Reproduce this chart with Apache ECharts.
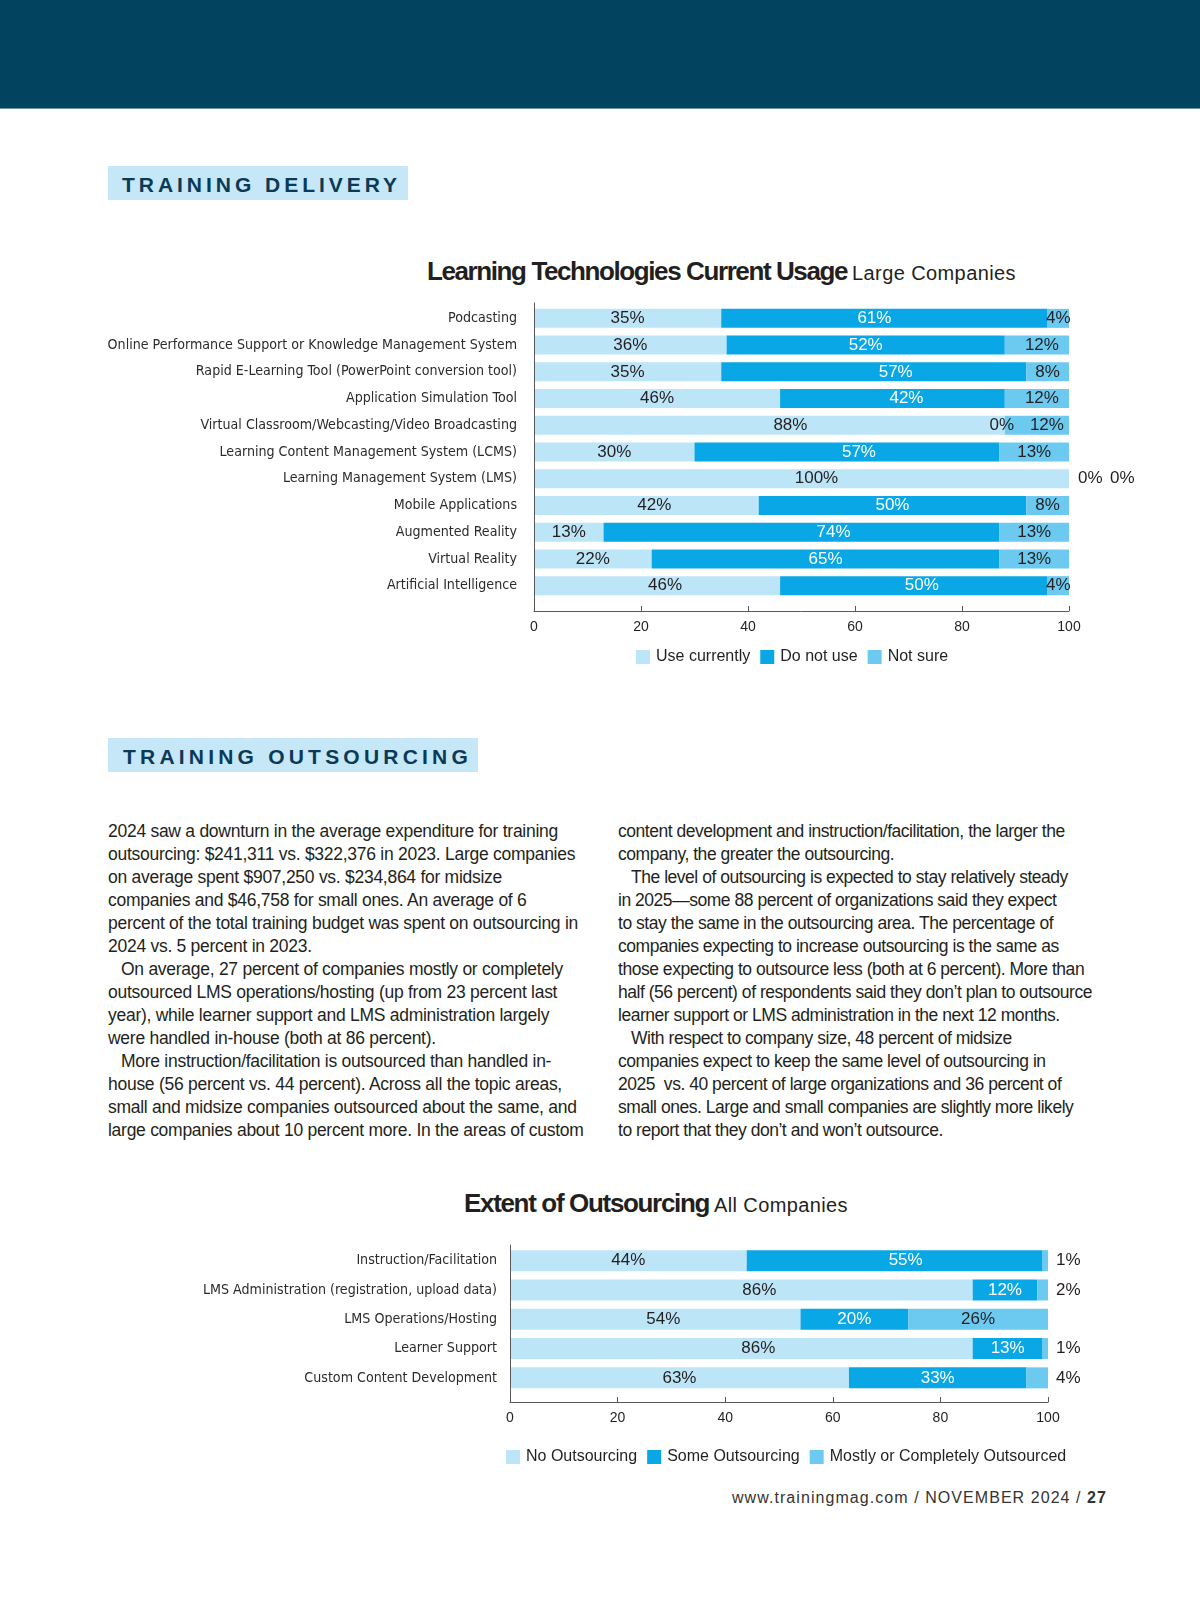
<!DOCTYPE html>
<html>
<head>
<meta charset="utf-8">
<script src="https://cdn.jsdelivr.net/npm/echarts@6/dist/echarts.min.js"></script>
<style>
html,body{margin:0;padding:0;background:#fff;}
#page{position:relative;width:1200px;height:1613px;overflow:hidden;background:#fff;}
#band{position:absolute;left:0;top:0;width:1200px;height:108px;background:#02445f;border-bottom:1px solid #6f93a6;}
.box{position:absolute;background:#c6e7f8;}
.sectxt{position:absolute;color:#0b3a57;font-family:'Liberation Sans',Arial,sans-serif;font-weight:bold;font-size:21px;line-height:22px;white-space:nowrap;}
.title{position:absolute;white-space:nowrap;color:#231f20;line-height:30px;}
.title .b{font-family:'Liberation Sans Narrow','Liberation Sans',sans-serif;font-weight:bold;font-size:26px;display:inline-block;}
.title .r{font-family:'Liberation Sans',sans-serif;font-size:20px;display:inline-block;margin-left:5px;}
.col{position:absolute;top:819.5px;font-family:'Liberation Sans',Arial,sans-serif;font-size:17.5px;line-height:23px;color:#231f20;white-space:nowrap;}
.col span{display:block;}
.col span.ind{text-indent:13px;}
#footer{position:absolute;left:732px;top:1488px;font-family:'Liberation Sans',Arial,sans-serif;font-size:16px;line-height:20px;color:#333;white-space:nowrap;}
#chart{position:absolute;left:0;top:0;width:1200px;height:1613px;}
</style>
</head>
<body>
<div id="page">
  <div id="band"></div>
  <div class="box" style="left:108px;top:166px;width:300px;height:34px;"></div>
  <div class="sectxt" id="sec1" style="left:122px;top:174px;">TRAINING DELIVERY</div>
  <div class="title" id="t1" style="left:427px;top:256px;"><span class="b">Learning Technologies Current Usage</span><span class="r">Large Companies</span></div>

  <div class="box" style="left:108px;top:738px;width:370px;height:34px;"></div>
  <div class="sectxt" id="sec2" style="left:123px;top:746px;">TRAINING OUTSOURCING</div>

  <div class="col" id="colL" style="left:108px;">
    <span>2024 saw a downturn in the average expenditure for training</span>
    <span>outsourcing: $241,311 vs. $322,376 in 2023. Large companies</span>
    <span>on average spent $907,250 vs. $234,864 for midsize</span>
    <span>companies and $46,758 for small ones. An average of 6</span>
    <span>percent of the total training budget was spent on outsourcing in</span>
    <span>2024 vs. 5 percent in 2023.</span>
    <span class="ind">On average, 27 percent of companies mostly or completely</span>
    <span>outsourced LMS operations/hosting (up from 23 percent last</span>
    <span>year), while learner support and LMS administration largely</span>
    <span>were handled in-house (both at 86 percent).</span>
    <span class="ind">More instruction/facilitation is outsourced than handled in-</span>
    <span>house (56 percent vs. 44 percent). Across all the topic areas,</span>
    <span>small and midsize companies outsourced about the same, and</span>
    <span>large companies about 10 percent more. In the areas of custom</span>
  </div>
  <div class="col" id="colR" style="left:618px;">
    <span>content development and instruction/facilitation, the larger the</span>
    <span>company, the greater the outsourcing.</span>
    <span class="ind">The level of outsourcing is expected to stay relatively steady</span>
    <span>in 2025—some 88 percent of organizations said they expect</span>
    <span>to stay the same in the outsourcing area. The percentage of</span>
    <span>companies expecting to increase outsourcing is the same as</span>
    <span>those expecting to outsource less (both at 6 percent). More than</span>
    <span>half (56 percent) of respondents said they don’t plan to outsource</span>
    <span>learner support or LMS administration in the next 12 months.</span>
    <span class="ind">With respect to company size, 48 percent of midsize</span>
    <span>companies expect to keep the same level of outsourcing in</span>
    <span>2025&nbsp; vs. 40 percent of large organizations and 36 percent of</span>
    <span>small ones. Large and small companies are slightly more likely</span>
    <span>to report that they don’t and won’t outsource.</span>
  </div>

  <div class="title" id="t2" style="left:464px;top:1188px;"><span class="b">Extent of Outsourcing</span><span class="r">All Companies</span></div>

  <div id="footer">www.trainingmag.com / NOVEMBER 2024 / <b>27</b></div>

  <div id="chart"></div>
</div>
<script>
// ---------- Data: Learning Technologies Current Usage (Large Companies) ----------
const techCategories = [
  'Podcasting',
  'Online Performance Support or Knowledge Management System',
  'Rapid E-Learning Tool (PowerPoint conversion tool)',
  'Application Simulation Tool',
  'Virtual Classroom/Webcasting/Video Broadcasting',
  'Learning Content Management System (LCMS)',
  'Learning Management System (LMS)',
  'Mobile Applications',
  'Augmented Reality',
  'Virtual Reality',
  'Artificial Intelligence'
];
const techSeriesNames = ['Use currently', 'Do not use', 'Not sure'];
const useCurrently = [35, 36, 35, 46, 88, 30, 100, 42, 13, 22, 46];
const doNotUse     = [61, 52, 57, 42, 0, 57, 0, 50, 74, 65, 50];
const notSure      = [4, 12, 8, 12, 12, 13, 0, 8, 13, 13, 4];

// ---------- Data: Extent of Outsourcing (All Companies) ----------
const outCategories = [
  'Instruction/Facilitation',
  'LMS Administration (registration, upload data)',
  'LMS Operations/Hosting',
  'Learner Support',
  'Custom Content Development'
];
const outSeriesNames = ['No Outsourcing', 'Some Outsourcing', 'Mostly or Completely Outsourced'];
const noOutsourcing    = [44, 86, 54, 86, 63];
const someOutsourcing  = [55, 12, 20, 13, 33];
const mostlyOutsourced = [1, 2, 26, 1, 4];

// ---------- Axis tick labels ----------
const axisTicks = [0, 20, 40, 60, 80, 100];

// ---------- Label nudges (styling only: horizontal pixel shifts seen in the original layout) ----------
const techLabelNudge = {
  'Use currently': { 4: 21, 6: 15, 7: 8, 10: 8 },
  'Do not use': { 0: -10, 2: 22, 3: 14, 5: 12, 8: 32, 10: 8 },
  'Not sure': { 1: 5, 3: 5 }
};
const outLabelNudge = {
  'No Outsourcing': { 1: 18, 2: 8, 3: 17 },
  'Some Outsourcing': { 0: 11 },
  'Mostly or Completely Outsourced': {}
};

// ---------- text fitting helpers ----------
function fitWidth(el, target) {
  el.style.letterSpacing = '0px';
  const prev = el.style.display;
  el.style.display = 'inline-block';
  const w = el.getBoundingClientRect().width;
  el.style.display = prev;
  const n = el.textContent.length;
  return (target - w) / n;
}
(function layoutText() {
  document.getElementById('sec1').style.letterSpacing = fitWidth(document.getElementById('sec1'), 279) + 'px';
  document.getElementById('sec2').style.letterSpacing = fitWidth(document.getElementById('sec2'), 349) + 'px';
  const t1 = document.querySelectorAll('#t1 span');
  t1[0].style.letterSpacing = fitWidth(t1[0], 420) + 'px';
  t1[1].style.letterSpacing = fitWidth(t1[1], 164) + 'px';
  const t2 = document.querySelectorAll('#t2 span');
  t2[0].style.letterSpacing = fitWidth(t2[0], 245) + 'px';
  t2[1].style.letterSpacing = fitWidth(t2[1], 134) + 'px';
  const refL = document.querySelector('#colL span:nth-child(5)');
  const lsL = fitWidth(refL, 470);
  refL.style.letterSpacing = '';
  document.getElementById('colL').style.letterSpacing = lsL + 'px';
  const refR = document.querySelector('#colR span:nth-child(8)');
  const lsR = fitWidth(refR, 474);
  refR.style.letterSpacing = '';
  document.getElementById('colR').style.letterSpacing = lsR + 'px';
  const f = document.getElementById('footer');
  f.style.letterSpacing = fitWidth(f, 375) + 'px';
})();

// category label font size fitted to the longest label's width in the reference
function fitFontSize(text, family, target, base) {
  const c = document.createElement('canvas').getContext('2d');
  c.font = base + 'px ' + family;
  return base * target / c.measureText(text).width;
}
const catFamily = "'Liberation Sans Narrow','DejaVu Sans Condensed','Roboto Condensed',Roboto,'Liberation Sans',sans-serif";
const catSize = Math.min(19, fitFontSize(techCategories[1], catFamily, 410, 18));

const colors = ['#bde5f8', '#0aa7e6', '#6ccaf1'];
const dark = '#231f20';
const labelFont = 'Liberation Sans';

const techValues = [useCurrently, doNotUse, notSure];
const techSeries = techValues.map((vals, si) => ({
  type: 'bar',
  name: techSeriesNames[si],
  stack: 'tech',
  xAxisIndex: 0,
  yAxisIndex: 0,
  barWidth: 19,
  z: 2,
  itemStyle: { color: colors[si] },
  label: {
    show: true, position: 'inside', formatter: '{c}%',
    fontSize: 17, fontFamily: labelFont,
    color: si === 1 ? '#ffffff' : dark
  },
  emphasis: { disabled: true },
  data: vals.map((v, i) => {
    let before = 0;
    for (let k = 0; k < si; k++) before += techValues[k][i];
    const item = { value: v };
    const nudge = (techLabelNudge[techSeriesNames[si]] || {})[i] || 0;
    if (v === 0 && before >= 100) {
      item.label = { position: 'right', distance: si === 1 ? 9 : 41, color: dark };
    } else if (v === 0) {
      item.label = { offset: [-3, 0], color: dark };
    } else if (si > 0 && techValues[si - 1][i] === 0) {
      item.label = { offset: [10, 0] };
    } else if (nudge) {
      item.label = { offset: [nudge, 0] };
    }
    return item;
  })
}));

const outValues = [noOutsourcing, someOutsourcing, mostlyOutsourced];
const outSeries = outValues.map((vals, si) => ({
  type: 'bar',
  name: outSeriesNames[si],
  stack: 'out',
  xAxisIndex: 2,
  yAxisIndex: 2,
  barWidth: 21,
  z: 2,
  itemStyle: { color: colors[si] },
  label: {
    show: true, position: 'inside', formatter: '{c}%',
    fontSize: 17, fontFamily: labelFont,
    color: si === 1 ? '#ffffff' : dark
  },
  emphasis: { disabled: true },
  data: vals.map((v, i) => {
    const item = { value: v };
    const nudge = (outLabelNudge[outSeriesNames[si]] || {})[i] || 0;
    if (si === 2 && v < 5) item.label = { position: 'right', distance: 8 };
    else if (nudge) item.label = { offset: [nudge, 0] };
    return item;
  })
}));

const tickMin = axisTicks[0], tickMax = axisTicks[axisTicks.length - 1], tickStep = axisTicks[1] - axisTicks[0];

function hiddenValueX(gi) {
  return { gridIndex: gi, type: 'value', min: tickMin, max: tickMax, interval: tickStep, show: false };
}
function visibleValueX(gi, margin) {
  return {
    gridIndex: gi, type: 'value', min: tickMin, max: tickMax, interval: tickStep, z: 10,
    axisLine: { show: true, lineStyle: { color: '#58595b', width: 1 } },
    axisTick: { show: true, inside: true, length: 5, lineStyle: { color: '#58595b' } },
    axisLabel: { show: true, fontSize: 14, fontFamily: labelFont, color: dark, margin: margin,
      formatter: (v) => String(v) },
    splitLine: { show: false }
  };
}
function frameY(gi) {
  return {
    gridIndex: gi, type: 'value', min: 0, max: 1, z: 10,
    axisLine: { show: true, lineStyle: { color: '#58595b', width: 1 } },
    axisTick: { show: false }, axisLabel: { show: false }, splitLine: { show: false }
  };
}
function catY(gi, cats, margin) {
  return {
    gridIndex: gi, type: 'category', data: cats, inverse: true,
    axisLine: { show: false }, axisTick: { show: false },
    axisLabel: { fontSize: catSize, fontFamily: catFamily, color: '#2b2b2b', margin: margin }
  };
}

const chart = echarts.init(document.getElementById('chart'), null, { renderer: 'canvas' });
chart.setOption({
  animation: false,
  backgroundColor: 'transparent',
  grid: [
    { left: 534, width: 535, top: 305, height: 294 },
    { left: 534, width: 535, top: 303, height: 308 },
    { left: 510, width: 538, top: 1246, height: 146.5 },
    { left: 510, width: 538, top: 1245, height: 157 }
  ],
  xAxis: [hiddenValueX(0), visibleValueX(1, 9), hiddenValueX(2), visibleValueX(3, 9)],
  yAxis: [catY(0, techCategories, 17), frameY(1), catY(2, outCategories, 13), frameY(3)],
  legend: [
    {
      data: techSeriesNames, left: 631, top: 644, itemWidth: 14, itemHeight: 14, itemGap: 10,
      icon: 'rect', selectedMode: false,
      textStyle: { fontSize: 16, fontFamily: labelFont, color: dark, padding: [0, 0, 0, 1] }
    },
    {
      data: outSeriesNames, left: 501, top: 1444, itemWidth: 14, itemHeight: 14, itemGap: 10,
      icon: 'rect', selectedMode: false,
      textStyle: { fontSize: 16, fontFamily: labelFont, color: dark, padding: [0, 0, 0, 1] }
    }
  ],
  series: techSeries.concat(outSeries)
});
</script>
</body>
</html>
